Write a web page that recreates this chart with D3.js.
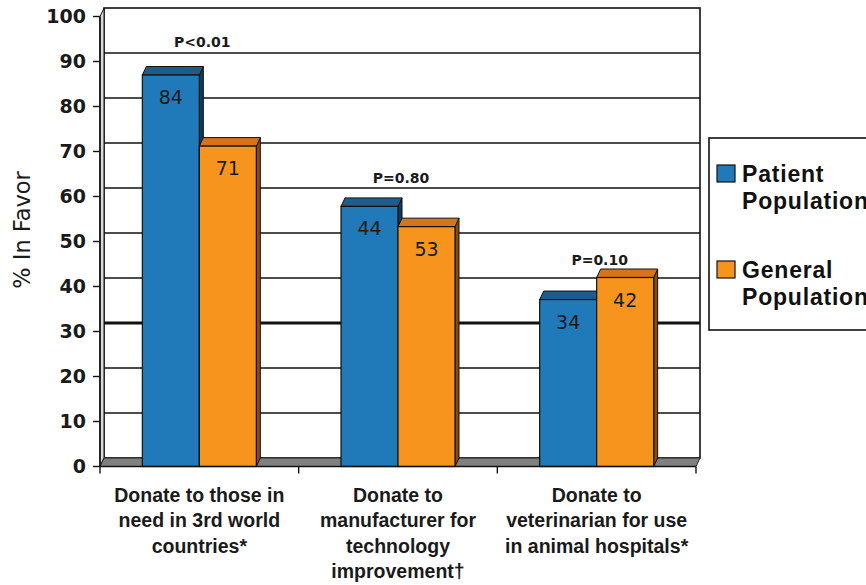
<!DOCTYPE html>
<html>
<head>
<meta charset="utf-8">
<script src="https://d3js.org/d3.v7.min.js"></script>
<style>
  body { margin: 0; background: #fff; }
  svg { display: block; }
</style>
</head>
<body>
<div id="chart"></div>
<script>
// categories, one array of lines per category
var categories = [
  ["Donate to those in", "need in 3rd world", "countries*"],
  ["Donate to", "manufacturer for", "technology", "improvement\u2020"],
  ["Donate to", "veterinarian for use", "in animal hospitals*"]
];
var seriesNames = ["Patient Population", "General Population"];

// bar heights as drawn in the picture, and the numbers printed on them
var patientBars = [87, 57.8, 37.1];
var patientLabels = ["84", "44", "34"];
var generalBars = [71.2, 53.3, 42];
var generalLabels = ["71", "53", "42"];

// p-values and the level (in % units) where each sits
var pTexts = ["P<0.01", "P=0.80", "P=0.10"];
var pLevels = [93.2, 62.9, 44.7];

var yTicks = [0, 10, 20, 30, 40, 50, 60, 70, 80, 90, 100];

var W = 866, H = 585;
var plotLeft = 100, plotRight = 696, plotBottom = 466.5, plotTop = 16.5;
var dx = 4, dy = -8.5;   // 3d depth

var svg = d3.select("#chart").append("svg")
  .attr("width", W).attr("height", H);

var y = d3.scaleLinear().domain([0, 100]).range([plotBottom, plotTop]);
var x0 = d3.scaleBand().domain(d3.range(categories.length)).range([plotLeft, plotRight]);
var x1 = d3.scaleBand().domain(seriesNames).range([0, x0.bandwidth()]).paddingOuter(0.743);

var colors = {
  "Patient Population": { front: "#2079b9", top: "#1b5d8f", side: "#0f3b5c" },
  "General Population": { front: "#f7941e", top: "#d6731b", side: "#8a4a12" }
};

// back wall
svg.append("rect")
  .attr("x", plotLeft + dx).attr("y", y(100) + dy)
  .attr("width", plotRight - plotLeft).attr("height", y(0) - y(100))
  .attr("fill", "#fff").attr("stroke", "#111").attr("stroke-width", 1.6);

// left side wall
svg.append("polygon")
  .attr("points", [[plotLeft, y(0)], [plotLeft, y(100)], [plotLeft + dx, y(100) + dy], [plotLeft + dx, y(0) + dy]].join(" "))
  .attr("fill", "#d9d9d9").attr("stroke", "#111").attr("stroke-width", 1);

// gridlines on the back wall
svg.selectAll("line.grid")
  .data(yTicks.filter(function(t){ return t > 0 && t < 100; }))
  .enter().append("line")
  .attr("class", "grid")
  .attr("x1", plotLeft + dx).attr("x2", plotRight + dx)
  .attr("y1", function(d){ return y(d) + dy; })
  .attr("y2", function(d){ return y(d) + dy; })
  .attr("stroke", "#111")
  .attr("stroke-width", function(d){ return d == 30 ? 3 : 1.3; });

// floor
svg.append("polygon")
  .attr("points", [[plotLeft, y(0)], [plotLeft + dx, y(0) + dy], [plotRight + dx, y(0) + dy], [plotRight, y(0)]].join(" "))
  .attr("fill", "#808080").attr("stroke", "#222").attr("stroke-width", 1);

// bars
var rows = [];
categories.forEach(function(c, i){
  rows.push({ cat: i, s: seriesNames[0], v: patientBars[i], label: patientLabels[i] });
  rows.push({ cat: i, s: seriesNames[1], v: generalBars[i], label: generalLabels[i] });
});

var bw = x1.bandwidth();
var bars = svg.selectAll("g.bar").data(rows).enter().append("g").attr("class", "bar");

bars.each(function(d){
  var g = d3.select(this);
  var bx = x0(d.cat) + x1(d.s);
  var yt = y(d.v), yb = y(0);
  var c = colors[d.s];
  // right side
  g.append("polygon")
    .attr("points", [[bx + bw, yt], [bx + bw + dx, yt + dy], [bx + bw + dx, yb + dy], [bx + bw, yb]].join(" "))
    .attr("fill", c.side).attr("stroke", "#111").attr("stroke-width", 1);
  // top
  g.append("polygon")
    .attr("points", [[bx, yt], [bx + dx, yt + dy], [bx + bw + dx, yt + dy], [bx + bw, yt]].join(" "))
    .attr("fill", c.top).attr("stroke", "#111").attr("stroke-width", 1);
  // front
  g.append("rect")
    .attr("x", bx).attr("y", yt).attr("width", bw).attr("height", yb - yt)
    .attr("fill", c.front).attr("stroke", "#111").attr("stroke-width", 1.2);
  // value label
  g.append("text")
    .attr("x", bx + bw / 2).attr("y", yt + 29)
    .attr("text-anchor", "middle")
    .style("font-family", "'DejaVu Sans', sans-serif")
    .style("font-size", "19px")
    .attr("fill", "#1a1a1a")
    .text(d.label);
});

// y axis
svg.append("line")
  .attr("x1", plotLeft).attr("x2", plotLeft).attr("y1", y(100)).attr("y2", y(0))
  .attr("stroke", "#111").attr("stroke-width", 1.6);
svg.selectAll("line.ytick").data(yTicks).enter().append("line")
  .attr("x1", plotLeft - 7).attr("x2", plotLeft)
  .attr("y1", function(d){ return y(d); }).attr("y2", function(d){ return y(d); })
  .attr("stroke", "#111").attr("stroke-width", 1.4);
svg.selectAll("text.ytick").data(yTicks).enter().append("text")
  .attr("x", plotLeft - 14).attr("y", function(d){ return y(d); })
  .attr("dy", "0.36em")
  .attr("text-anchor", "end")
  .style("font-family", "'DejaVu Sans', sans-serif")
  .style("font-size", "19px").style("font-weight", "bold")
  .attr("fill", "#1a1a1a")
  .text(function(d){ return d; });

// x axis
svg.append("line")
  .attr("x1", plotLeft).attr("x2", plotRight).attr("y1", y(0)).attr("y2", y(0))
  .attr("stroke", "#111").attr("stroke-width", 1.6);
svg.selectAll("line.xtick").data(d3.range(categories.length + 1)).enter().append("line")
  .attr("x1", function(i){ return plotLeft + i * x0.step(); })
  .attr("x2", function(i){ return plotLeft + i * x0.step(); })
  .attr("y1", y(0)).attr("y2", y(0) + 7)
  .attr("stroke", "#111").attr("stroke-width", 1.4);

var xl = svg.selectAll("text.xlab").data(categories).enter().append("text")
  .attr("text-anchor", "middle")
  .style("font-family", "'Liberation Sans', Arial, sans-serif")
  .style("font-size", "19.5px").style("font-weight", "bold")
  .attr("fill", "#1a1a1a");
xl.each(function(lines, i){
  var t = d3.select(this);
  lines.forEach(function(s, k){
    t.append("tspan")
      .attr("x", x0(i) + x0.bandwidth() / 2)
      .attr("y", 502 + k * 25.3)
      .text(s);
  });
});

// p-values
svg.selectAll("text.pval").data(pTexts).enter().append("text")
  .attr("x", function(d, i){ return x0(i) + x0.bandwidth() / 2 + 3; })
  .attr("y", function(d, i){ return y(pLevels[i]); })
  .attr("text-anchor", "middle")
  .style("font-family", "'DejaVu Sans', sans-serif")
  .style("font-size", "14px").style("font-weight", "bold")
  .attr("fill", "#1a1a1a")
  .text(function(d){ return d; });

// y title
svg.append("text")
  .attr("transform", "translate(30,230) rotate(-90)")
  .attr("text-anchor", "middle")
  .style("font-family", "'DejaVu Sans', sans-serif")
  .style("font-size", "22.5px")
  .attr("fill", "#1a1a1a")
  .text("% In Favor");

// legend
var lg = svg.append("g");
lg.append("rect")
  .attr("x", 709).attr("y", 138).attr("width", 200).attr("height", 192)
  .attr("fill", "#fff").attr("stroke", "#111").attr("stroke-width", 1.6);
var legendRows = [
  { s: seriesNames[0], words: ["Patient", "Population"], sy: 165 },
  { s: seriesNames[1], words: ["General", "Population"], sy: 261 }
];
legendRows.forEach(function(r){
  lg.append("rect")
    .attr("x", 717).attr("y", r.sy).attr("width", 18).attr("height", 17)
    .attr("fill", colors[r.s].front).attr("stroke", "#111").attr("stroke-width", 1.2);
  var t = lg.append("text")
    .style("font-family", "'Liberation Sans', Arial, sans-serif")
    .style("font-size", "23px").style("font-weight", "bold")
    .style("letter-spacing", "0.8px")
    .attr("fill", "#111");
  r.words.forEach(function(w, k){
    t.append("tspan").attr("x", 742).attr("y", r.sy + 17 + k * 27).text(w);
  });
});
</script>
</body>
</html>
